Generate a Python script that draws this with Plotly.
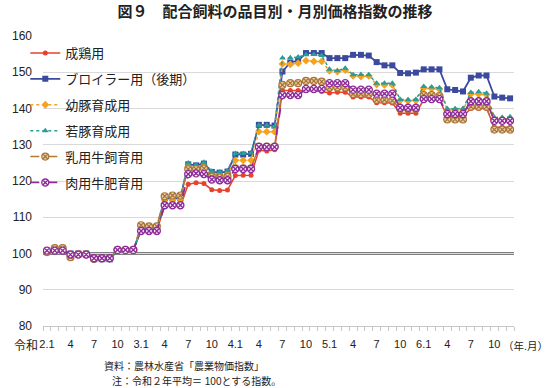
import plotly.graph_objects as go

# ---- data (index 0 = 令和2年1月 ... 59 = 令和6年12月) ----
months = list(range(60))

seikei = [100.8,100.9,100.9, 99.8,99.8,99.8, 98.7,98.7,98.7, 101.0,101.0,101.0,
          106.3,106.3,106.3, 113.2,113.2,113.0, 119.1,119.5,119.3, 117.6,117.4,117.5,
          121.5,121.6,121.6, 128.5,128.3,128.6, 145.0,145.0,145.0, 144.9,144.9,144.7,
          144.3,144.5,144.5, 143.2,143.2,143.2, 141.6,141.6,141.5, 138.7,138.7,138.7,
          142.4,142.4,142.4, 137.8,137.8,137.8, 140.0,140.0,140.0, 134.8,134.8,134.8]

broiler = [100.8,100.8,100.8, 100.0,100.0,100.0, 98.5,98.5,98.5, 101.0,101.0,101.0,
           106.6,106.6,106.6, 115.2,115.2,115.2, 124.6,124.3,124.8, 122.5,122.3,122.6,
           127.3,127.3,127.5, 135.5,135.5,135.3, 150.2,152.7,153.2, 155.3,155.3,155.3,
           153.9,153.9,153.9, 154.8,154.8,154.6, 152.8,151.9,151.9, 149.8,149.7,149.9,
           150.8,150.8,150.8, 145.3,145.1,144.7, 148.5,149.1,149.1, 143.3,143.0,142.8]

youton = [100.8,101.0,101.0, 99.8,99.8,99.8, 98.6,98.6,98.6, 101.0,101.0,101.0,
          106.8,106.8,106.8, 115.0,115.0,115.0, 124.0,123.8,124.2, 122.0,121.8,122.0,
          125.7,125.7,125.7, 133.6,133.6,133.6, 152.3,152.2,152.5, 153.2,153.0,153.0,
          150.4,150.2,150.6, 149.0,148.8,149.0, 146.6,146.5,146.5, 142.2,142.1,142.2,
          145.6,145.5,145.3, 139.6,139.6,139.6, 144.0,144.0,143.8, 137.2,137.2,137.2]

jakuton = [100.8,100.8,100.8, 99.8,99.8,99.8, 98.3,98.0,98.0, 101.0,101.0,101.0,
           107.0,107.0,107.0, 115.5,115.5,115.5, 125.0,124.5,125.2, 122.7,122.5,122.8,
           127.6,127.6,127.8, 135.4,135.4,135.0, 153.9,154.0,154.2, 154.8,154.9,154.6,
           150.8,150.4,151.1, 149.3,149.4,149.3, 147.0,147.0,147.0, 142.5,142.4,142.5,
           146.1,145.9,145.7, 139.9,139.9,140.0, 144.4,144.6,144.2, 137.5,137.5,137.7]

nyuyogyu = [100.4,101.5,101.5, 99.0,99.8,99.8, 98.5,98.7,98.7, 101.0,101.0,101.0,
            107.8,107.5,107.5, 115.8,116.0,116.0, 123.3,123.3,123.5, 121.2,121.0,121.2,
            123.5,123.5,123.5, 129.5,129.5,129.5, 146.5,147.0,147.0, 147.6,147.6,147.4,
            145.8,145.8,145.8, 144.0,144.0,144.0, 142.4,142.4,142.2, 139.9,139.9,139.9,
            143.7,143.7,143.4, 137.0,137.0,137.0, 140.5,140.5,140.5, 134.2,134.2,134.2]

nikuyogyu = [100.8,100.8,100.8, 99.7,99.7,99.7, 98.7,98.7,98.7, 101.0,101.0,101.0,
             106.2,106.2,106.2, 113.3,113.3,113.3, 121.9,122.1,121.9, 120.4,120.2,120.2,
             123.3,123.3,123.3, 129.4,129.4,129.4, 143.7,143.7,143.7, 145.4,145.4,145.4,
             147.0,147.0,147.0, 145.2,145.2,145.2, 144.1,144.1,144.1, 140.2,140.2,140.2,
             142.6,142.6,142.6, 138.5,138.5,138.5, 142.0,142.0,142.0, 136.6,136.6,136.6]

series_names = ["成鶏用", "ブロイラー用（後期）", "幼豚育成用", "若豚育成用", "乳用牛飼育用", "肉用牛肥育用"]

tick_pos = list(range(0, 60, 3))
tick_text = ["2.1", "4", "7", "10", "3.1", "4", "7", "10", "4.1", "4", "7", "10",
             "5.1", "4", "7", "10", "6.1", "4", "7", "10"]

y_ticks = [80, 90, 100, 110, 120, 130, 140, 150, 160]

# ---- figure ----
W, H = 550, 388
L, R, T, B = 35, 36, 36, 62
FONT = "Liberation Sans, Arial, Noto Sans CJK JP, sans-serif"

def py(pix):
    return (H - B - pix) / (H - T - B)

def px(pix):
    return (pix - L) / (W - L - R)

styles = [
    dict(line=dict(color="#E8412C", width=1.5), marker=dict(symbol="circle", size=5, color="#E8412C")),
    dict(line=dict(color="#3B4A9E", width=1.8), marker=dict(symbol="square", size=6, color="#3B4A9E")),
    dict(line=dict(color="#F5A21E", width=1.5, dash="dot"), marker=dict(symbol="diamond", size=6, color="#F5A21E")),
    dict(line=dict(color="#2A9D9A", width=1.5, dash="dot"), marker=dict(symbol="triangle-up", size=6, color="#2A9D9A")),
    dict(line=dict(color="#B07A3A", width=1.5, dash="dash"),
         marker=dict(symbol="circle-x", size=7, color="#E9CFA0", line=dict(color="#A8743A", width=1.2))),
    dict(line=dict(color="#8E2A9A", width=1.8, dash="dash"),
         marker=dict(symbol="circle-x", size=7, color="white", line=dict(color="#8E2A9A", width=1.4))),
]

data = [seikei, broiler, youton, jakuton, nyuyogyu, nikuyogyu]

fig = go.Figure()
for i, (name, vals, st) in enumerate(zip(series_names, data, styles)):
    fig.add_trace(go.Scatter(x=months, y=vals, name=name, mode="lines+markers",
                             legendgroup=str(i), line=st["line"], marker=st["marker"]))

fig.add_shape(type="line", xref="paper", yref="y", x0=0, x1=1, y0=100, y1=100,
              line=dict(color="black", width=1.8), layer="between")

fig.update_layout(
    width=W, height=H,
    margin=dict(l=L, r=R, t=T, b=B),
    paper_bgcolor="white", plot_bgcolor="white",
    font=dict(family=FONT, size=11, color="#222"),
    showlegend=True,
    legend=dict(x=px(17), y=py(38), xanchor="left", yanchor="top",
                bgcolor="rgba(255,255,255,0)", font=dict(size=13, color="#222"),
                tracegroupgap=6, itemwidth=30),
    xaxis=dict(range=[-0.5, 59.5], tickmode="array", tickvals=tick_pos, ticktext=tick_text,
               showgrid=False, zeroline=False, showline=True, linecolor="#c8c8c8", linewidth=1,
               ticks="", ticklabelstandoff=8, tickfont=dict(size=11, color="#222"),
               minor=dict(tickmode="linear", tick0=-0.5, dtick=1, ticks="outside", ticklen=4,
                          tickcolor="#c8c8c8", showgrid=False)),
    yaxis=dict(range=[80, 160], tickmode="array", tickvals=y_ticks,
               showgrid=True, gridcolor="#d9d9d9", gridwidth=1, zeroline=False,
               showline=False, ticks="", ticklabelstandoff=10, tickfont=dict(size=12, color="#222")),
    title=dict(text="<b>図９　配合飼料の品目別・月別価格指数の推移</b>", x=0.5, xanchor="center",
               y=1 - 12 / H, yanchor="middle", font=dict(size=15, color="#222")),
)

fig.add_annotation(text="令和", xref="paper", yref="paper", x=px(32), y=py(346),
                   xanchor="right", yanchor="middle", showarrow=False, font=dict(size=12, color="#222"))
fig.add_annotation(text="（年.月）", xref="paper", yref="paper", x=px(501), y=py(346),
                   xanchor="left", yanchor="middle", showarrow=False, font=dict(size=10.5, color="#222"))
fig.add_annotation(text="資料：農林水産省「農業物価指数」", xref="paper", yref="paper", x=px(95), y=py(366),
                   xanchor="left", yanchor="middle", showarrow=False, font=dict(size=10, color="#222"))
fig.add_annotation(text="注：令和２年平均＝ 100とする指数。", xref="paper", yref="paper", x=px(103), y=py(381),
                   xanchor="left", yanchor="middle", showarrow=False, font=dict(size=10, color="#222"))

fig.write_html("out.html", config={"displayModeBar": False},
               post_script="document.body.style.margin='0';")
